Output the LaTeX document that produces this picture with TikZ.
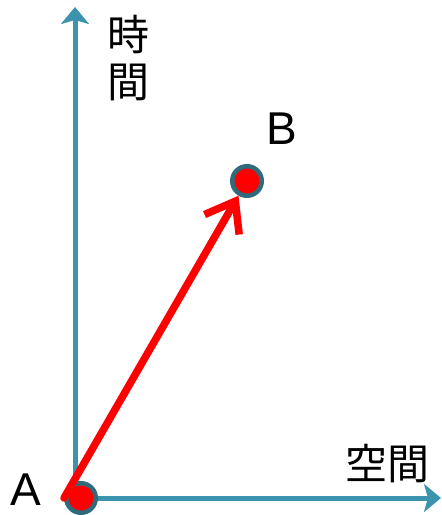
\documentclass[tikz,border=0pt]{standalone}
\usepackage{fontspec}
\setmainfont{Liberation Sans}
\newfontfamily\jpfont{Noto Sans CJK JP}
\usetikzlibrary{arrows.meta}

\begin{document}
\begin{tikzpicture}[x=1pt,y=-1pt]
\definecolor{axisblue}{HTML}{3B93AE}
\definecolor{ringteal}{HTML}{2F6B7B}
\definecolor{vecred}{HTML}{FF0000}
\tikzset{
  axisline/.style={axisblue, line width=5pt, -{Stealth[length=17pt,width=28pt,inset=4pt]}},
  eventdot/.style={circle, fill=vecred, draw=ringteal, line width=4.5pt, minimum size=29.5pt, inner sep=0pt},
  vecline/.style={vecred, line width=7.5pt, line cap=round, -{Straight Barb[length=27pt,width=40pt]}},
  lbl/.style={font=\fontsize{46}{48}\selectfont, inner sep=0pt},
  jplbl/.style={font=\jpfont\fontsize{42}{47}\selectfont, inner sep=0pt, align=center}
}
\useasboundingbox (0,0) rectangle (442,515);
% axes
\coordinate (origin) at (75,500);
\coordinate (tend) at (75,7);
\coordinate (xstart) at (73,498);
\coordinate (xend) at (441,498);
\draw[axisline] (origin) -- (tend);
\draw[axisline] (xstart) -- (xend);
% events
\node[eventdot] (ptA) at (81,498) {};
\node[eventdot] (ptB) at (247,181) {};
\draw[vecline] (ptA.west) -- (ptB);
% labels
\node[lbl] (labA) at (26,490) {A};
\node[lbl] (labB) at (282,129) {B};
\node[jplbl] (labT) at (128,58) {時\\間};
\node[jplbl] (labS) at (387,464) {空間};
\end{tikzpicture}
\end{document}
